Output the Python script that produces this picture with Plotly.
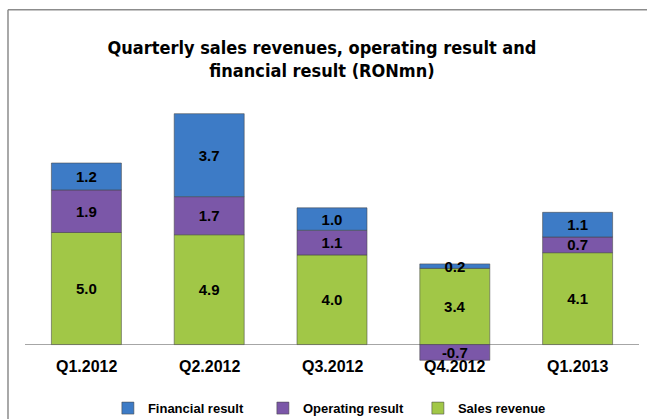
import plotly.graph_objects as go

categories = ["Q1.2012", "Q2.2012", "Q3.2012", "Q4.2012", "Q1.2013"]
sales_revenue = [5.0, 4.9, 4.0, 3.4, 4.1]
operating_result = [1.9, 1.7, 1.1, -0.7, 0.7]
financial_result = [1.2, 3.7, 1.0, 0.2, 1.1]

series = [
    ("Sales revenue", sales_revenue, "#a1c747"),
    ("Operating result", operating_result, "#7b57a8"),
    ("Financial result", financial_result, "#3d7bc6"),
]

fig = go.Figure()
for name, vals, color in series:
    fig.add_trace(go.Bar(
        x=categories, y=vals, name=name,
        marker=dict(color=color, line=dict(color="rgba(70,70,70,0.55)", width=1)),
        text=[f"{v:.1f}" for v in vals],
        textposition="inside", insidetextanchor="middle", textangle=0,
        constraintext="none",
        textfont=dict(family="Liberation Sans, Arial, sans-serif", size=15, color="black", weight="bold"),
        cliponaxis=False,
    ))

for c in categories:
    fig.add_annotation(x=c, y=0, xref="x", yref="y", yshift=-22, text=c, showarrow=False,
                       font=dict(family="Liberation Sans, Arial, sans-serif", size=16, color="black", weight="bold"),
                       yanchor="middle")

# chart frame (left and top border)
fig.add_shape(type="line", xref="paper", yref="paper", x0=-0.0277, x1=-0.0277, y0=-0.3, y1=1.3277,
              line=dict(color="#8c8c8c", width=1.5))
fig.add_shape(type="line", xref="paper", yref="paper", x0=-0.0277, x1=1.05, y0=1.3277, y1=1.3277,
              line=dict(color="#8c8c8c", width=1.5))

fig.update_layout(
    width=647, height=419,
    margin=dict(l=25, r=8, t=98, b=52, autoexpand=False),
    paper_bgcolor="white", plot_bgcolor="white",
    barmode="relative", bargap=0.43,
    uniformtext=dict(minsize=15, mode="show"),
    title=dict(text="Quarterly sales revenues, operating result and<br>financial result (RONmn)",
               x=0.4837, xanchor="center", xref="paper", yref="container", y=1 - 54 / 419, yanchor="middle",
               font=dict(family="DejaVu Sans Condensed, sans-serif", size=18,
                         color="black", weight="bold")),
    xaxis=dict(showticklabels=False, showgrid=False, showline=False, ticks="", fixedrange=True),
    yaxis=dict(range=[-1.0, 11], showticklabels=False, showgrid=False, zeroline=True,
               zerolinecolor="#a6a6a6", zerolinewidth=1, showline=False, ticks=""),
    legend=dict(orientation="h", traceorder="reversed", x=0.135, xanchor="left", y=-0.153, yanchor="middle",
                font=dict(family="Liberation Sans, Arial, sans-serif", size=13, color="black", weight="bold"),
                itemwidth=30, tracegroupgap=0, entrywidth=110, entrywidthmode="pixels"),
    showlegend=True,
)

fig.write_html("out.html", config={"displayModeBar": False},
               post_script="document.body.style.margin='0';document.body.style.overflow='hidden';")
